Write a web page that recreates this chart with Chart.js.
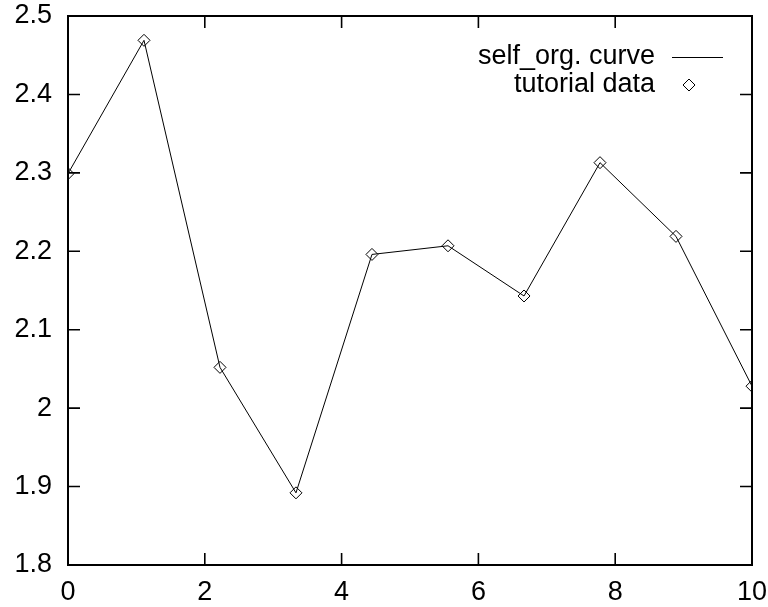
<!DOCTYPE html>
<html>
<head>
<meta charset="utf-8">
<script src="https://cdn.jsdelivr.net/npm/chart.js@4/dist/chart.umd.min.js"></script>
<style>
  html, body { margin: 0; padding: 0; background: #fff; }
  #wrap { width: 768px; height: 607px; }
</style>
</head>
<body>
<div id="wrap"><canvas id="lineChart" width="768" height="607"></canvas></div>
<script>
// Werte
const xValues = [0, 1.111, 2.222, 3.333, 4.444, 5.556, 6.667, 7.778, 8.889, 10];
const yValues = [2.299, 2.469, 2.052, 1.892, 2.196, 2.207, 2.143, 2.313, 2.219, 2.028];
const xTicks = [0, 2, 4, 6, 8, 10];
const yTicks = [1.8, 1.9, 2.0, 2.1, 2.2, 2.3, 2.4, 2.5];
const seriesNames = ['self_org. curve', 'tutorial data'];

const FONT = '"Liberation Sans", Arial, Helvetica, sans-serif';
const FONT_SIZE = 27;
const points = xValues.map((x, i) => ({ x: x, y: yValues[i] }));

// keine automatische Randerweiterung durch die Beschriftungen
function noPadding(s) {
  s.paddingTop = 0; s.paddingBottom = 0; s.paddingLeft = 0; s.paddingRight = 0;
}

// Rahmen, nach innen gerichtete Ticks und Legende im gnuplot-Stil
const gnuplotFrame = {
  id: 'gnuplotFrame',
  afterDraw(chart) {
    const { ctx, chartArea: a, scales } = chart;
    const len = 12;
    ctx.save();
    ctx.strokeStyle = '#000';
    ctx.lineWidth = 2;
    ctx.strokeRect(a.left, a.top, a.right - a.left, a.bottom - a.top);
    ctx.lineWidth = 1.6;
    ctx.beginPath();
    xTicks.forEach(v => {
      const px = scales.x.getPixelForValue(v);
      ctx.moveTo(px, a.bottom); ctx.lineTo(px, a.bottom - len);
      ctx.moveTo(px, a.top); ctx.lineTo(px, a.top + len);
    });
    yTicks.forEach(v => {
      const py = scales.y.getPixelForValue(v);
      ctx.moveTo(a.left, py); ctx.lineTo(a.left + len, py);
      ctx.moveTo(a.right, py); ctx.lineTo(a.right - len, py);
    });
    ctx.stroke();

    // Legende
    ctx.font = FONT_SIZE + 'px ' + FONT;
    ctx.fillStyle = '#000';
    ctx.textAlign = 'right';
    ctx.textBaseline = 'middle';
    const tx = 655, r1 = 57, r2 = 85;
    ctx.fillText(seriesNames[0], tx, r1);
    ctx.fillText(seriesNames[1], tx, r2);
    ctx.lineWidth = 1;
    ctx.beginPath();
    ctx.moveTo(672, r1 + 0.5); ctx.lineTo(723, r1 + 0.5);
    ctx.stroke();
    ctx.beginPath();
    ctx.moveTo(689, r2 - 6); ctx.lineTo(695, r2); ctx.lineTo(689, r2 + 6); ctx.lineTo(683, r2);
    ctx.closePath();
    ctx.stroke();
    ctx.restore();
  }
};

new Chart(document.getElementById('lineChart').getContext('2d'), {
  type: 'scatter',
  data: {
    datasets: [{
      label: seriesNames[0],
      data: points,
      showLine: true,
      borderColor: '#000',
      borderWidth: 1,
      tension: 0,
      pointStyle: 'rectRot',
      pointRadius: 6,
      pointHoverRadius: 6,
      pointBorderWidth: 1,
      pointBackgroundColor: 'rgba(0,0,0,0)',
      pointBorderColor: '#000',
    }],
  },
  options: {
    responsive: false,
    animation: false,
    events: [],
    layout: { padding: { top: 16, right: 16, left: 0, bottom: 0 } },
    plugins: { legend: { display: false }, tooltip: { enabled: false } },
    scales: {
      x: {
        type: 'linear',
        min: 0,
        max: 10,
        afterFit(s) { s.height = 42; noPadding(s); },
        afterBuildTicks(s) { s.ticks = xTicks.map(v => ({ value: v })); },
        grid: { display: false, drawTicks: false },
        border: { display: false },
        ticks: {
          color: '#000',
          padding: 11,
          maxRotation: 0,
          autoSkip: false,
          font: { family: FONT, size: FONT_SIZE },
          callback: v => String(v),
        },
      },
      y: {
        type: 'linear',
        min: 1.8,
        max: 2.5,
        afterFit(s) { s.width = 68; noPadding(s); },
        afterBuildTicks(s) { s.ticks = yTicks.map(v => ({ value: v })); },
        grid: { display: false, drawTicks: false },
        border: { display: false },
        ticks: {
          color: '#000',
          padding: 16,
          autoSkip: false,
          font: { family: FONT, size: FONT_SIZE },
          callback: v => String(parseFloat(Number(v).toFixed(1))),
        },
      },
    },
  },
  plugins: [gnuplotFrame],
});
</script>
</body>
</html>
